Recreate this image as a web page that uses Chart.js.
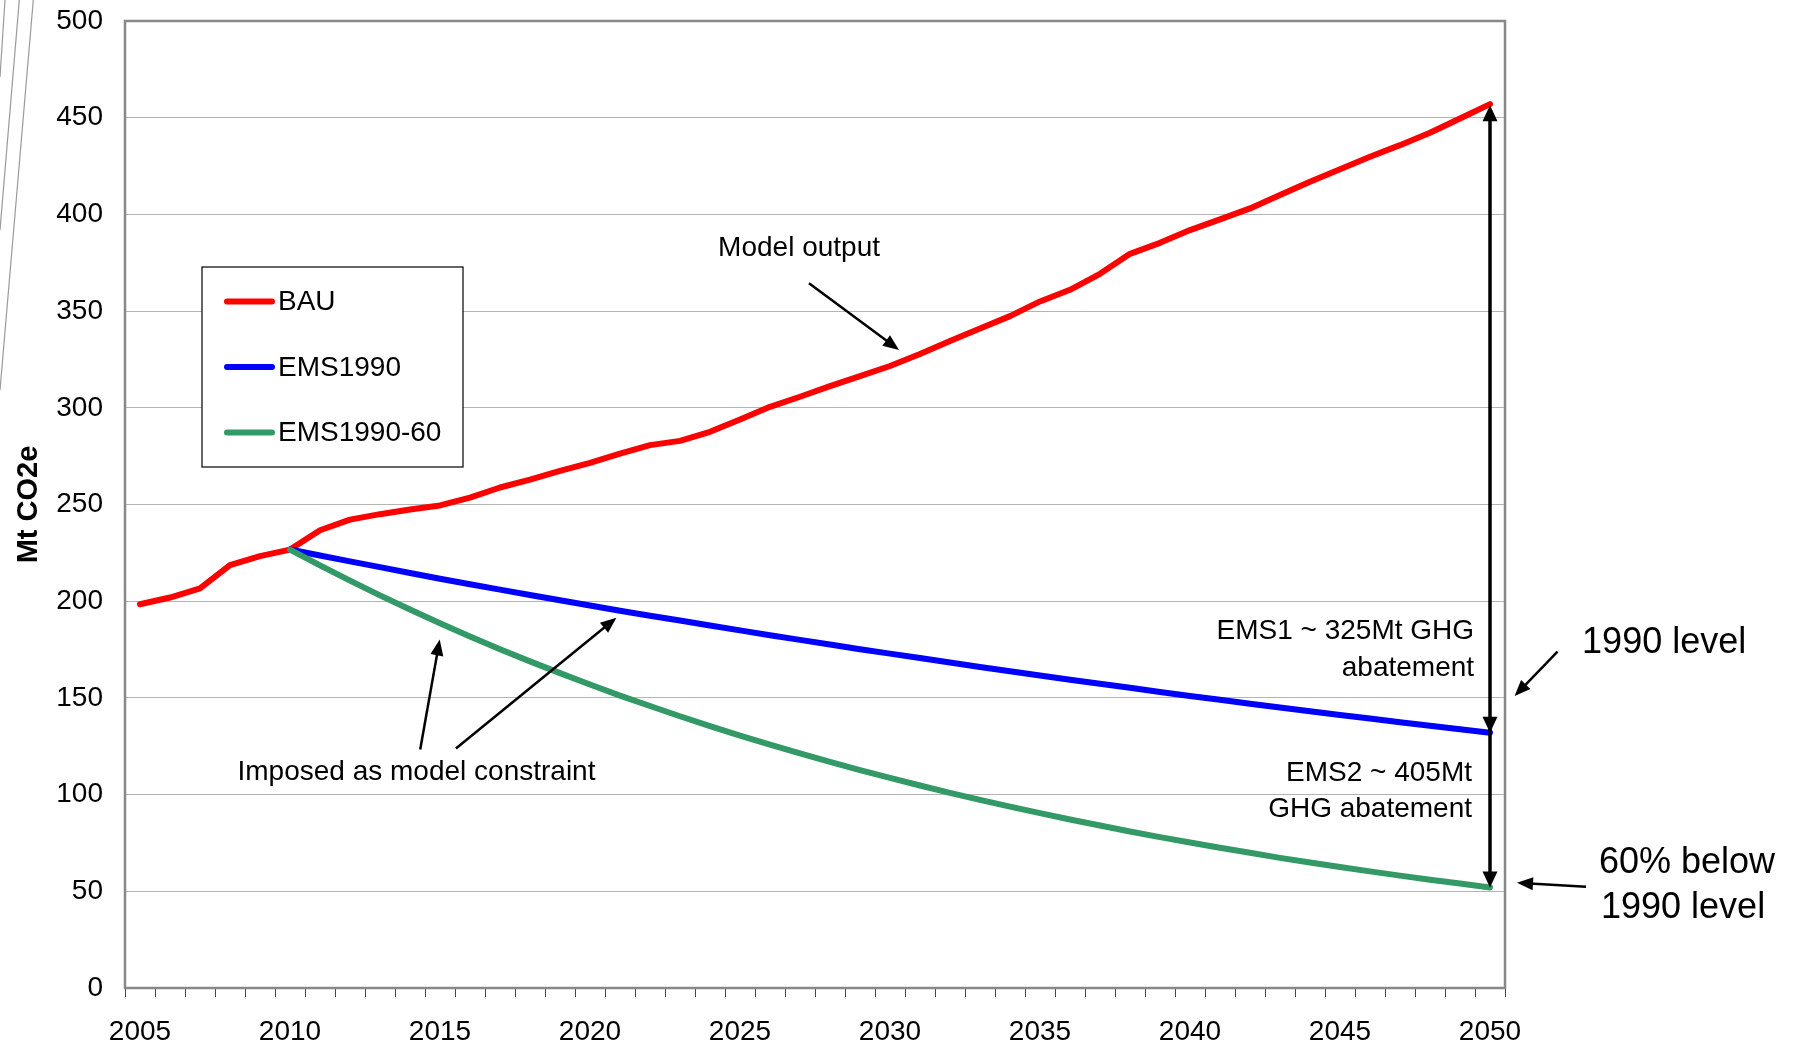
<!DOCTYPE html>
<html>
<head>
<meta charset="utf-8">
<title>Mt CO2e – BAU vs EMS1990</title>
<script src="https://cdn.jsdelivr.net/npm/chart.js@4.4.1/dist/chart.umd.min.js"></script>
<style>
  html, body { margin: 0; padding: 0; background: #fff; }
  #wrap { width: 1800px; height: 1047px; position: relative; }
</style>
</head>
<body>
<div id="wrap"><canvas id="co2Chart" width="1800" height="1047"></canvas></div>
<script>
// --- data ---
const years = ['2005','2006','2007','2008','2009','2010','2011','2012','2013','2014',
  '2015','2016','2017','2018','2019','2020','2021','2022','2023','2024',
  '2025','2026','2027','2028','2029','2030','2031','2032','2033','2034',
  '2035','2036','2037','2038','2039','2040','2041','2042','2043','2044',
  '2045','2046','2047','2048','2049','2050'];
const tickYears = ['2005','2010','2015','2020','2025','2030','2035','2040','2045','2050'];
const yTickValues = [0, 50, 100, 150, 200, 250, 300, 350, 400, 450, 500];

const bau = [198.4, 201.9, 206.6, 218.6, 223.3, 226.7, 236.7, 242.2, 245.0, 247.4,
  249.5, 253.6, 258.8, 262.9, 267.4, 271.5, 276.3, 280.7, 282.9, 287.6,
  294.0, 300.5, 305.7, 311.2, 316.4, 321.6, 327.8, 334.5, 341.0, 347.4,
  355.0, 361.0, 369.3, 379.6, 385.3, 391.9, 397.4, 403.1, 410.0, 416.9,
  423.3, 429.8, 435.8, 442.2, 449.6, 457.0];
const ems1990 = [null, null, null, null, null, 226.7, 223.6, 220.6, 217.6, 214.6,
  211.6, 208.8, 206.0, 203.2, 200.5, 197.8, 195.1, 192.5, 190.0, 187.4,
  184.9, 182.4, 180.0, 177.6, 175.2, 172.9, 170.6, 168.3, 166.0, 163.8,
  161.6, 159.4, 157.3, 155.2, 153.1, 151.0, 149.0, 147.0, 145.0, 143.1,
  141.2, 139.3, 137.4, 135.6, 133.8, 132.0];
const ems199060 = [null, null, null, null, null, 226.7, 218.5, 210.6, 203.0, 195.7,
  188.6, 181.8, 175.2, 168.9, 162.8, 156.9, 151.2, 145.8, 140.5, 135.4,
  130.5, 125.8, 121.3, 116.9, 112.7, 108.6, 104.7, 100.9, 97.3, 93.8,
  90.4, 87.1, 84.0, 80.9, 78.0, 75.2, 72.5, 69.9, 67.3, 64.9,
  62.6, 60.3, 58.1, 56.0, 54.0, 52.0];

// annotation texts and arrows, placed in (year, value) space
const noteTexts = [
  { text: 'Model output', year: 2024.27, value: 383.8, align: 'left', size: 28 },
  { text: 'Imposed as model constraint', year: 2008.25, value: 113.2, align: 'left', size: 28 },
  { text: 'EMS1 ~ 325Mt GHG', year: 2049.47, value: 186.1, align: 'right', size: 28 },
  { text: 'abatement', year: 2049.47, value: 167.0, align: 'right', size: 28 },
  { text: 'EMS2 ~ 405Mt', year: 2049.4, value: 112.7, align: 'right', size: 28 },
  { text: 'GHG abatement', year: 2049.4, value: 94.1, align: 'right', size: 28 },
  { text: '1990 level', year: 2053.07, value: 179.9, align: 'left', size: 36 },
  { text: '60% below', year: 2053.63, value: 66.2, align: 'left', size: 36 },
  { text: '1990 level', year: 2053.7, value: 42.9, align: 'left', size: 36 }
];
const noteArrows = [
  { from: [2027.3, 364.4], to: [2030.3, 329.9] },
  { from: [2014.34, 123.3], to: [2014.99, 180.2] },
  { from: [2015.53, 123.8], to: [2020.88, 191.5] },
  { from: [2052.25, 173.9], to: [2050.82, 151.0] },
  { from: [2053.2, 52.4], to: [2050.9, 54.4] }
];

const FONT = "'Liberation Sans', Arial, sans-serif";

function arrowHead(ctx, x1, y1, x2, y2, len, half) {
  const a = Math.atan2(y2 - y1, x2 - x1);
  const bx = x2 - len * Math.cos(a), by = y2 - len * Math.sin(a);
  ctx.beginPath();
  ctx.moveTo(x2, y2);
  ctx.lineTo(bx + half * Math.sin(a), by - half * Math.cos(a));
  ctx.lineTo(bx - half * Math.sin(a), by + half * Math.cos(a));
  ctx.closePath();
  ctx.fill();
}

function arrow(ctx, x1, y1, x2, y2, width, len, half) {
  const a = Math.atan2(y2 - y1, x2 - x1);
  ctx.lineWidth = width;
  ctx.beginPath();
  ctx.moveTo(x1, y1);
  ctx.lineTo(x2 - len * 0.8 * Math.cos(a), y2 - len * 0.8 * Math.sin(a));
  ctx.stroke();
  arrowHead(ctx, x1, y1, x2, y2, len, half);
}

// slide decoration, plot frame, legend box and the notes
const decorPlugin = {
  id: 'decor',
  beforeDraw(chart) {
    const ctx = chart.ctx;
    ctx.save();
    ctx.strokeStyle = '#9a9a9a';
    ctx.lineWidth = 1.2;
    [[5, 77], [19.3, 230], [33.3, 390]].forEach(([top, bottom]) => {
      ctx.beginPath();
      ctx.moveTo(top, 0);
      ctx.lineTo(0, bottom);
      ctx.stroke();
    });
    ctx.restore();
  },
  beforeDatasetsDraw(chart) {
    const { ctx, chartArea: ca } = chart;
    ctx.save();
    ctx.strokeStyle = '#888';
    ctx.lineWidth = 2.5;
    ctx.strokeRect(ca.left, ca.top, ca.right - ca.left, ca.bottom - ca.top);
    ctx.restore();
  },
  afterDatasetsDraw(chart) {
    const { ctx, chartArea: ca, scales } = chart;
    const px = yr => scales.x.getPixelForValue(yr - 2005);
    const py = v => scales.y.getPixelForValue(v);

    // legend
    ctx.save();
    const lx = ca.left + 77, ly = ca.top + 246, lw = 261, lh = 200;
    ctx.fillStyle = '#fff';
    ctx.fillRect(lx, ly, lw, lh);
    ctx.strokeStyle = '#000';
    ctx.lineWidth = 1.2;
    ctx.strokeRect(lx, ly, lw, lh);
    ctx.font = '28px ' + FONT;
    ctx.textBaseline = 'middle';
    ctx.textAlign = 'left';
    chart.data.datasets.forEach((ds, i) => {
      const y = ly + 34.5 + i * 65.5;
      ctx.strokeStyle = ds.borderColor;
      ctx.lineWidth = 6;
      ctx.lineCap = 'round';
      ctx.beginPath();
      ctx.moveTo(lx + 25, y);
      ctx.lineTo(lx + 70, y);
      ctx.stroke();
      ctx.fillStyle = '#000';
      ctx.fillText(ds.label, lx + 76, y + 1);
    });
    ctx.restore();

    // notes
    ctx.save();
    ctx.fillStyle = '#000';
    ctx.strokeStyle = '#000';
    ctx.textBaseline = 'middle';
    noteTexts.forEach(n => {
      ctx.font = n.size + 'px ' + FONT;
      ctx.textAlign = n.align;
      ctx.fillText(n.text, px(n.year), py(n.value) + 3);
    });
    noteArrows.forEach(a => {
      arrow(ctx, px(a.from[0]), py(a.from[1]), px(a.to[0]), py(a.to[1]), 2.5, 16, 6.5);
    });

    // double arrow at 2050 between BAU and the two targets
    const last = years.length - 1;
    const xa = scales.x.getPixelForValue(last);
    const yTop = py(bau[last]) + 1, yMid = py(ems1990[last]), yBot = py(ems199060[last]);
    ctx.lineWidth = 3.5;
    ctx.beginPath();
    ctx.moveTo(xa, yTop + 12);
    ctx.lineTo(xa, yBot - 12);
    ctx.stroke();
    arrowHead(ctx, xa, yBot, xa, yTop, 16, 7.5);
    arrowHead(ctx, xa, yTop, xa, yMid, 16, 7.5);
    arrowHead(ctx, xa, yTop, xa, yBot, 16, 7.5);
    ctx.restore();
  }
};

const lineStyle = { borderWidth: 6, pointRadius: 0, tension: 0, fill: false,
  borderCapStyle: 'round', borderJoinStyle: 'round', spanGaps: false };

new Chart(document.getElementById('co2Chart').getContext('2d'), {
  type: 'line',
  data: {
    labels: years,
    datasets: [
      Object.assign({ label: 'BAU', data: bau, borderColor: '#ff0000', order: 3 }, lineStyle),
      Object.assign({ label: 'EMS1990', data: ems1990, borderColor: '#0000ff', order: 2 }, lineStyle),
      Object.assign({ label: 'EMS1990-60', data: ems199060, borderColor: '#339966', order: 1 }, lineStyle)
    ]
  },
  options: {
    responsive: false,
    animation: false,
    devicePixelRatio: 1,
    events: [],
    layout: { padding: { left: 0, right: 295, top: 21, bottom: 0 } },
    plugins: { legend: { display: false }, tooltip: { enabled: false } },
    scales: {
      x: {
        type: 'category',
        offset: true,
        grid: { offset: true, drawOnChartArea: false, drawTicks: true, tickLength: 9, color: '#444', lineWidth: 1 },
        border: { display: false },
        ticks: {
          autoSkip: false, maxRotation: 0, minRotation: 0, padding: 18, color: '#000',
          font: { family: FONT, size: 28 },
          callback: (v, i) => tickYears.includes(years[i]) ? years[i] : ''
        },
        afterFit: s => { s.height = 59; }
      },
      y: {
        min: 0, max: 500,
        afterBuildTicks: s => { s.ticks = yTickValues.map(v => ({ value: v })); },
        grid: { color: '#b4b4b4', lineWidth: 1, drawTicks: false },
        border: { display: false },
        ticks: { padding: 22, color: '#000', font: { family: FONT, size: 28 } },
        title: { display: true, text: 'Mt CO2e', color: '#000',
          font: { family: FONT, size: 29, weight: 'bold' }, padding: { top: 12, bottom: 0 } },
        afterFit: s => { s.width = 125; s.paddingTop = 0; s.paddingBottom = 0; }
      }
    }
  },
  plugins: [decorPlugin]
});
</script>
</body>
</html>
